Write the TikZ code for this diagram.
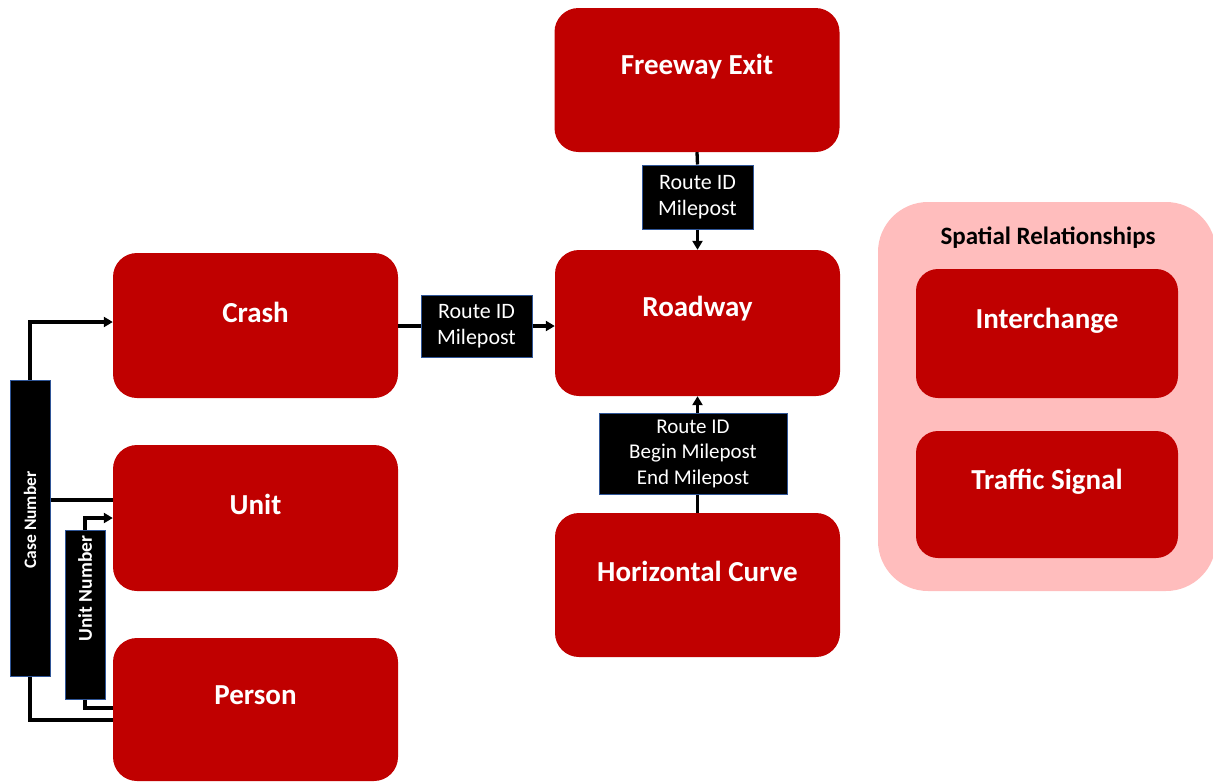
\documentclass[tikz,border=0pt]{standalone}
\usepackage{fontspec}
\setmainfont{Carlito}
\usetikzlibrary{arrows.meta}
\definecolor{boxred}{HTML}{C00000}
\definecolor{pinkbg}{HTML}{FFBDBD}
\definecolor{lblborder}{HTML}{2F5597}
\tikzset{
  bigbox/.style={draw=none, fill=boxred, rounded corners=24pt, minimum width=285pt, minimum height=145pt, inner sep=0pt},
  sidebox/.style={draw=none, fill=boxred, rounded corners=22pt, minimum width=262pt, minimum height=128pt, inner sep=0pt},
  bigtext/.style={text=white, font=\fontsize{29}{33}\selectfont\bfseries},
  lbl/.style={draw=lblborder, line width=1pt, fill=black, text=white, inner sep=0pt, align=center,
    font=\fontsize{21}{25.5}\selectfont},
  vlbl/.style={draw=lblborder, line width=1pt, fill=black, text=white, inner sep=0pt,
    font=\fontsize{18}{20}\selectfont\bfseries},
  conn/.style={line width=3.3pt, draw=black},
  arr/.style={conn, -{Triangle[length=9pt,width=10pt]}},
}
\begin{document}
\begin{tikzpicture}[x=1pt,y=-1pt]
\useasboundingbox (0,0) rectangle (1213,782);
% spatial relationships background
\fill[pinkbg, rounded corners=50pt] (878,202) rectangle (1216,591);
\node[font=\fontsize{25}{29}\selectfont\bfseries, text=black] (sptitle) at (1048,238) {Spatial Relationships};
\node[sidebox, minimum height=129pt, label={[bigtext,yshift=13pt]center:Interchange}] (interchange) at (1047,333.5) {};
\node[sidebox, minimum height=127pt, label={[bigtext,yshift=13pt]center:Traffic Signal}] (traffic) at (1047,494.5) {};
% main boxes
\node[bigbox, minimum height=144pt, label={[bigtext,yshift=13pt]center:Freeway Exit}] (freeway) at (697,80) {};
\node[bigbox, minimum height=146pt, label={[bigtext,yshift=14pt]center:Roadway}] (roadway) at (697.5,323) {};
\node[bigbox, minimum height=144pt, label={[bigtext,yshift=14pt]center:Horizontal Curve}] (curve) at (697.5,585) {};
\node[bigbox, label={[bigtext,yshift=13pt]center:Crash}] (crash) at (255.5,325.5) {};
\node[bigbox, minimum height=146pt, label={[bigtext,yshift=14pt]center:Unit}] (unit) at (255.5,518) {};
\node[bigbox, minimum height=143pt, label={[bigtext,yshift=14pt]center:Person}] (person) at (255.5,709.5) {};
% label boxes
\node[lbl, minimum width=111pt, minimum height=62pt, font=\fontsize{22}{26}\selectfont] (lab1) at (476.5,326) {Route ID\\Milepost};
\node[lbl, minimum width=111pt, minimum height=64pt, font=\fontsize{22}{26}\selectfont] (lab2) at (697.5,197) {Route ID\\Milepost};
\node[lbl, minimum width=188pt, minimum height=81pt] (lab3) at (693,453.5) {Route ID\\Begin Milepost\\End Milepost};
\node[vlbl, minimum width=40pt, minimum height=296pt, font=\fontsize{17.5}{20}\selectfont\bfseries] (case) at (30,528) {\rotatebox{90}{\hspace*{16pt}Case Number}};
\node[vlbl, minimum width=40pt, minimum height=169pt, font=\fontsize{19.5}{22}\selectfont\bfseries] (unitnum) at (85,614.5) {\rotatebox{90}{\hspace*{52pt}Unit Number}};
% connectors
\draw[conn] (lab1.west -| crash.east) -- (lab1.west);
\draw[arr] (lab1.east) -- (lab1.east -| roadway.west);
\draw[conn] (freeway.south) -- (lab2.north);
\draw[arr] (lab2.south) -- (roadway.north);
\draw[conn] (curve.north) -- (curve.north |- lab3.south);
\draw[arr] (roadway.south |- lab3.north) -- (roadway.south);
\draw[arr] (case.north) |- ([yshift=3.5pt]crash.west);
\draw[conn] ([yshift=18pt]unit.west -| case.east) -- ([yshift=18pt]unit.west);
\draw[conn] (case.south) |- ([yshift=-10.5pt]person.west);
\draw[arr] (unitnum.north) |- (unit.west);
\draw[conn] (unitnum.south) |- ([yshift=1.5pt]person.west);
\end{tikzpicture}
\end{document}
